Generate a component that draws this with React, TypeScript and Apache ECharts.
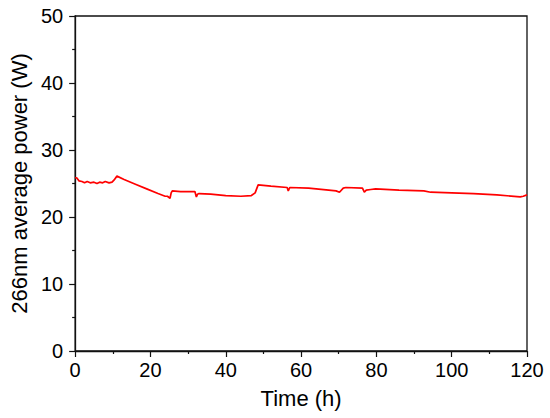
import React, { useEffect, useRef } from "react";
import * as echarts from "echarts";

const timeH = [
  0, 0.5, 1, 1.8, 2.5, 3.2, 4, 5, 5.8, 6.5,
  7.3, 8, 9, 9.8, 10.3, 11.1, 13, 16, 19, 22,
  23.9, 24.5, 25.2, 25.5, 25.8, 28, 31.8, 32.2, 32.5, 32.9,
  36, 40, 44, 46.8, 47.8, 48.6, 52, 56.3, 56.6, 57,
  62, 66, 69.3, 70.2, 71.2, 71.9, 76.3, 76.8, 77.3, 78.5,
  79.8, 86, 92.6, 94.4, 100, 105.8, 112, 118.2, 119, 120,
];
const powerW = [
  25.9, 25.8, 25.4, 25.3, 25.1, 25.3, 25.1, 25.2, 25.0, 25.2,
  25.1, 25.3, 25.1, 25.2, 25.5, 26.1, 25.6, 24.9, 24.2, 23.5,
  23.1, 23.1, 22.8, 23.6, 23.9, 23.8, 23.8, 23.0, 23.4, 23.5,
  23.4, 23.2, 23.1, 23.2, 23.6, 24.8, 24.6, 24.4, 23.9, 24.4,
  24.3, 24.1, 23.9, 23.7, 24.3, 24.4, 24.3, 23.7, 24.0, 24.1,
  24.2, 24.0, 23.9, 23.7, 23.6, 23.5, 23.3, 23.0, 23.1, 23.3,
];
const xTicks = [0, 20, 40, 60, 80, 100, 120];
const yTicks = [0, 10, 20, 30, 40, 50];

const FONT = "'Liberation Sans', Arial, sans-serif";

export default function App() {
  const ref = useRef<HTMLDivElement>(null);
  useEffect(() => {
    if (!ref.current) return;
    const chart = echarts.init(ref.current, undefined, { renderer: "svg" });
    const axisLine = { show: true, lineStyle: { color: "#111", width: 1.3 } };
    const tick = { show: true, inside: false, length: 6, lineStyle: { color: "#111", width: 1.2 } };
    const minor = { show: true, splitNumber: 2, length: 3, lineStyle: { color: "#111", width: 1.2 } };
    chart.setOption({
      animation: false,
      backgroundColor: "#fff",
      grid: {
        left: 73, right: 23, top: 16, bottom: 67,
        show: true, borderColor: "#111", borderWidth: 1.3,
      },
      xAxis: {
        type: "value",
        min: xTicks[0],
        max: xTicks[xTicks.length - 1],
        interval: 20,
        name: "Time (h)",
        nameLocation: "middle",
        nameGap: 36,
        nameTextStyle: { fontFamily: FONT, fontSize: 22, color: "#000" },
        axisLine,
        axisTick: tick,
        minorTick: minor,
        axisLabel: { fontFamily: FONT, fontSize: 20, color: "#000", margin: 9 },
        splitLine: { show: false },
      },
      yAxis: {
        type: "value",
        min: yTicks[0],
        max: yTicks[yTicks.length - 1],
        interval: 10,
        name: "266nm average power (W)",
        nameLocation: "middle",
        nameGap: 45,
        nameTextStyle: { fontFamily: FONT, fontSize: 22, color: "#000" },
        axisLine,
        axisTick: tick,
        minorTick: minor,
        axisLabel: { fontFamily: FONT, fontSize: 20, color: "#000", margin: 12 },
        splitLine: { show: false },
      },
      series: [
        {
          type: "line",
          data: timeH.map((t, i) => [t, powerW[i]]),
          showSymbol: false,
          symbol: "none",
          lineStyle: { color: "#ff0000", width: 1.7 },
        },
      ],
    });
    return () => chart.dispose();
  }, []);
  return (
    <div
      ref={ref}
      style={{ position: "fixed", left: 0, top: 0, width: 550, height: 418, background: "#fff" }}
    />
  );
}
